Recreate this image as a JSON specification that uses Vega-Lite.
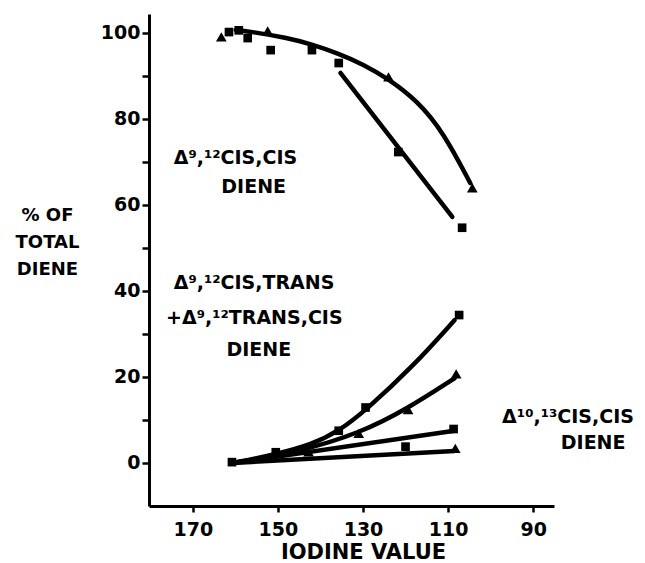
{
  "$schema": "https://vega.github.io/schema/vega-lite/v6.json",
  "autosize": {"type": "none"},
  "padding": {"left": 149, "top": 14, "right": 91, "bottom": 57},
  "width": 405,
  "height": 492,
  "background": "white",
  "config": {
    "view": {"stroke": null},
    "font": "DejaVu Sans",
    "axis": {
      "grid": false,
      "domainColor": "black",
      "domainWidth": 3,
      "tickColor": "black",
      "tickWidth": 2.5,
      "tickSize": 7,
      "labelColor": "black",
      "labelFont": "DejaVu Sans",
      "labelFontWeight": "bold",
      "labelFontSize": 19,
      "titleColor": "black",
      "titleFont": "DejaVu Sans",
      "titleFontWeight": "bold",
      "titleFontSize": 18
    }
  },
  "datasets": {
    "pts": [
      {"iv": 163.3, "pct": 99.1, "shape": "triangle"},
      {"iv": 161.5, "pct": 100.2, "shape": "square"},
      {"iv": 159.2, "pct": 100.6, "shape": "square"},
      {"iv": 157.1, "pct": 98.8, "shape": "square"},
      {"iv": 152.4, "pct": 100.5, "shape": "triangle"},
      {"iv": 151.7, "pct": 96.0, "shape": "square"},
      {"iv": 142.0, "pct": 96.0, "shape": "square"},
      {"iv": 135.7, "pct": 93.0, "shape": "square"},
      {"iv": 124.0, "pct": 89.8, "shape": "triangle"},
      {"iv": 121.7, "pct": 72.3, "shape": "square"},
      {"iv": 104.3, "pct": 64.0, "shape": "triangle"},
      {"iv": 106.7, "pct": 54.7, "shape": "square"},
      {"iv": 160.8, "pct": 0.2, "shape": "square"},
      {"iv": 150.5, "pct": 2.5, "shape": "square"},
      {"iv": 142.8, "pct": 2.6, "shape": "triangle"},
      {"iv": 135.7, "pct": 7.5, "shape": "square"},
      {"iv": 131.0, "pct": 6.9, "shape": "triangle"},
      {"iv": 129.4, "pct": 12.9, "shape": "square"},
      {"iv": 119.4, "pct": 12.4, "shape": "triangle"},
      {"iv": 120.0, "pct": 3.8, "shape": "square"},
      {"iv": 107.4, "pct": 34.4, "shape": "square"},
      {"iv": 108.1, "pct": 20.7, "shape": "triangle"},
      {"iv": 108.7, "pct": 7.9, "shape": "square"},
      {"iv": 108.3, "pct": 3.4, "shape": "triangle"}
    ],
    "curves": [
      {"iv": 159.9, "pct": 100.7, "curve": "A"},
      {"iv": 156.4, "pct": 100.3, "curve": "A"},
      {"iv": 148.0, "pct": 98.9, "curve": "A"},
      {"iv": 141.8, "pct": 97.3, "curve": "A"},
      {"iv": 136.0, "pct": 95.3, "curve": "A"},
      {"iv": 129.9, "pct": 92.7, "curve": "A"},
      {"iv": 124.0, "pct": 89.3, "curve": "A"},
      {"iv": 117.2, "pct": 84.2, "curve": "A"},
      {"iv": 111.1, "pct": 76.9, "curve": "A"},
      {"iv": 104.8, "pct": 65.1, "curve": "A"},
      {"iv": 135.3, "pct": 90.7, "curve": "B"},
      {"iv": 109.0, "pct": 57.2, "curve": "B"},
      {"iv": 160.6, "pct": 0.0, "curve": "C"},
      {"iv": 150.5, "pct": 2.0, "curve": "C"},
      {"iv": 142.0, "pct": 4.3, "curve": "C"},
      {"iv": 135.7, "pct": 7.4, "curve": "C"},
      {"iv": 129.4, "pct": 12.2, "curve": "C"},
      {"iv": 118.2, "pct": 22.5, "curve": "C"},
      {"iv": 108.5, "pct": 33.2, "curve": "C"},
      {"iv": 160.6, "pct": 0.0, "curve": "D"},
      {"iv": 145.0, "pct": 2.6, "curve": "D"},
      {"iv": 130.6, "pct": 7.0, "curve": "D"},
      {"iv": 119.6, "pct": 12.6, "curve": "D"},
      {"iv": 108.5, "pct": 19.7, "curve": "D"},
      {"iv": 160.6, "pct": 0.0, "curve": "E"},
      {"iv": 108.5, "pct": 7.5, "curve": "E"},
      {"iv": 160.6, "pct": 0.0, "curve": "F"},
      {"iv": 108.5, "pct": 2.8, "curve": "F"}
    ],
    "labelsLeft": [
      {"iv": 174.5, "pct": 70.9, "text": "Δ⁹,¹²CIS,CIS"},
      {"iv": 174.5, "pct": 41.9, "text": "Δ⁹,¹²CIS,TRANS"},
      {"iv": 176.3, "pct": 33.7, "text": "+Δ⁹,¹²TRANS,CIS"},
      {"iv": 97.3, "pct": 10.7, "text": "Δ¹⁰,¹³CIS,CIS"}
    ],
    "labelsCenter": [
      {"iv": 155.7, "pct": 64.2, "text": "DIENE"},
      {"iv": 154.5, "pct": 26.3, "text": "DIENE"},
      {"iv": 75.9, "pct": 4.7, "text": "DIENE"}
    ]
  },
  "layer": [
    {
      "data": {"name": "curves"},
      "mark": {"type": "line", "color": "black", "strokeWidth": 4.5, "interpolate": "basis", "strokeCap": "round"},
      "encoding": {
        "x": {"field": "iv", "type": "quantitative",
              "scale": {"domain": [85.1, 180.3], "reverse": true, "nice": false, "zero": false},
              "axis": {"values": [170, 150, 130, 110, 90], "title": "IODINE VALUE",
                       "tickSize": 6, "labelBaseline": "middle", "labelPadding": 17,
                       "titleFontSize": 21,
                       "titleX": 214, "titleY": 46, "titleBaseline": "middle", "titleAlign": "center"}},
        "y": {"field": "pct", "type": "quantitative",
              "scale": {"domain": [-10, 104.4], "nice": false, "zero": false},
              "axis": {"values": [0, 10, 20, 30, 40, 50, 60, 70, 80, 90, 100],
                       "labelExpr": "datum.value % 20 == 0 ? datum.label : ''",
                       "labelPadding": 2,
                       "title": ["% OF", "TOTAL", "DIENE"],
                       "titleAngle": 0, "titleX": -102, "titleY": 201,
                       "titleAlign": "center", "titleBaseline": "middle", "titleLineHeight": 27}},
        "detail": {"field": "curve"}
      }
    },
    {
      "data": {"name": "pts"},
      "mark": {"type": "point", "filled": true, "color": "black", "opacity": 1},
      "encoding": {
        "x": {"field": "iv", "type": "quantitative"},
        "y": {"field": "pct", "type": "quantitative"},
        "shape": {"field": "shape", "type": "nominal",
                  "scale": {"domain": ["square", "triangle"], "range": ["square", "triangle-up"]},
                  "legend": null},
        "size": {"field": "shape", "type": "nominal",
                 "scale": {"domain": ["square", "triangle"], "range": [75, 115]},
                 "legend": null}
      }
    },
    {
      "data": {"name": "labelsLeft"},
      "mark": {"type": "text", "font": "DejaVu Sans", "fontWeight": "bold", "fontSize": 19, "color": "black", "baseline": "middle", "align": "left"},
      "encoding": {
        "x": {"field": "iv", "type": "quantitative"},
        "y": {"field": "pct", "type": "quantitative"},
        "text": {"field": "text"}
      }
    },
    {
      "data": {"name": "labelsCenter"},
      "mark": {"type": "text", "font": "DejaVu Sans", "fontWeight": "bold", "fontSize": 19, "color": "black", "baseline": "middle", "align": "center"},
      "encoding": {
        "x": {"field": "iv", "type": "quantitative"},
        "y": {"field": "pct", "type": "quantitative"},
        "text": {"field": "text"}
      }
    }
  ]
}
